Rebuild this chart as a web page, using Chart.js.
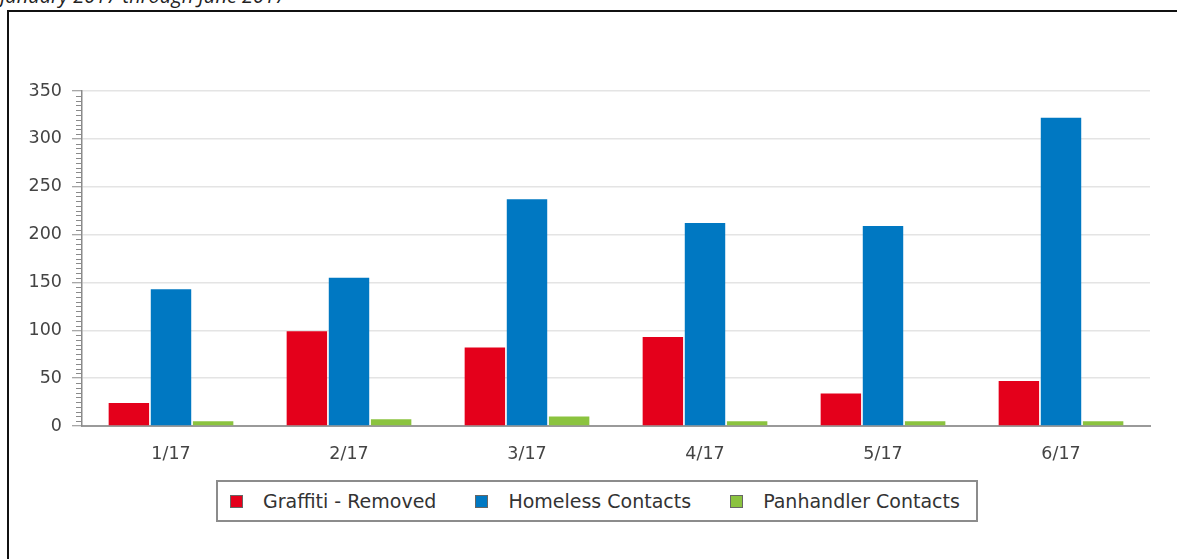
<!DOCTYPE html>
<html>
<head>
<meta charset="utf-8">
<script src="https://cdn.jsdelivr.net/npm/chart.js@4"></script>
<style>
  html, body { margin: 0; padding: 0; background: #fff; overflow: hidden; }
  body { width: 1177px; height: 559px; position: relative; }
  #title {
    position: absolute; left: 0; top: -14px;
    font: italic 20px/20px "Open Sans", sans-serif; color: #222; white-space: nowrap;
  }
  #frame {
    position: absolute; left: 7px; top: 10px; width: 1300px; height: 700px;
    border-left: 2px solid #111; border-top: 2px solid #111;
  }
  #plChart { position: absolute; left: 0; top: 0; }
  #legend {
    position: absolute; left: 216px; top: 480px; width: 762px; height: 42px;
    box-sizing: border-box; border: 2px solid #8c8c8c; background: #fff;
    display: flex; align-items: center; padding-left: 12px;
    font: 19px "DejaVu Sans", sans-serif; color: #333;
  }
  .item { display: flex; align-items: center; margin-right: 39px; white-space: nowrap; }
  .swatch { width: 11px; height: 11px; border: 1px solid #666; margin-right: 20px; }
</style>
</head>
<body>
<div id="title">January 2017 through June 2017</div>
<div id="frame"></div>
<canvas id="plChart" width="1177" height="559"></canvas>
<div id="legend"></div>
<script>
const months = ['1/17', '2/17', '3/17', '4/17', '5/17', '6/17'];
const graffiti = [24, 99, 82, 93, 34, 47];
const homeless = [143, 155, 237, 212, 209, 322];
const panhandler = [5, 7, 10, 5, 5, 5];
const yTicks = [0, 50, 100, 150, 200, 250, 300, 350];

const ctx = document.getElementById('plChart');

// small ticks every 5 units on the left axis
const minorTicks = {
  id: 'minorTicks',
  afterDraw(chart) {
    const y = chart.scales.y;
    const c = chart.ctx;
    c.save();
    c.strokeStyle = '#8a8a8a';
    c.lineWidth = 1;
    for (let v = 0; v <= 350; v += 5) {
      if (v % 50 === 0) continue;
      const py = Math.round(y.getPixelForValue(v)) + 0.5;
      c.beginPath();
      c.moveTo(y.right - 6, py);
      c.lineTo(y.right, py);
      c.stroke();
    }
    c.restore();
  }
};

const chart = new Chart(ctx, {
  type: 'bar',
  data: {
    labels: months,
    datasets: [
      { label: 'Graffiti - Removed', data: graffiti, backgroundColor: '#e4001b' },
      { label: 'Homeless Contacts', data: homeless, backgroundColor: '#0078c2' },
      { label: 'Panhandler Contacts', data: panhandler, backgroundColor: '#8bc33f' }
    ]
  },
  options: {
    responsive: false,
    animation: false,
    layout: { padding: { left: 0, right: 27, top: 91, bottom: 93 } },
    datasets: {
      bar: { categoryPercentage: 0.71, barPercentage: 0.96 }
    },
    plugins: {
      legend: { display: false },
      tooltip: { enabled: false }
    },
    scales: {
      x: {
        grid: { display: false, drawTicks: false },
        border: { display: true, color: '#9a9a9a', width: 2 },
        ticks: {
          color: '#444',
          padding: 18,
          font: { family: 'DejaVu Sans', size: 17.5 }
        },
        afterFit(scale) { scale.height = 40; }
      },
      y: {
        min: 0,
        max: 350,
        afterBuildTicks(scale) { scale.ticks = yTicks.map(v => ({ value: v })); },
        grid: { color: '#e4e4e4', lineWidth: 1.5, tickLength: 10, tickColor: '#8a8a8a', tickWidth: 1 },
        border: { display: true, color: '#8a8a8a', width: 1.5 },
        ticks: {
          color: '#444',
          padding: 10,
          font: { family: 'DejaVu Sans', size: 17.5 }
        },
        afterFit(scale) { scale.width = 82; }
      }
    }
  },
  plugins: [minorTicks]
});

const legend = document.getElementById('legend');
chart.data.datasets.forEach(ds => {
  const item = document.createElement('div');
  item.className = 'item';
  const sw = document.createElement('span');
  sw.className = 'swatch';
  sw.style.background = ds.backgroundColor;
  const txt = document.createElement('span');
  txt.textContent = ds.label;
  item.appendChild(sw);
  item.appendChild(txt);
  legend.appendChild(item);
});
</script>
</body>
</html>
